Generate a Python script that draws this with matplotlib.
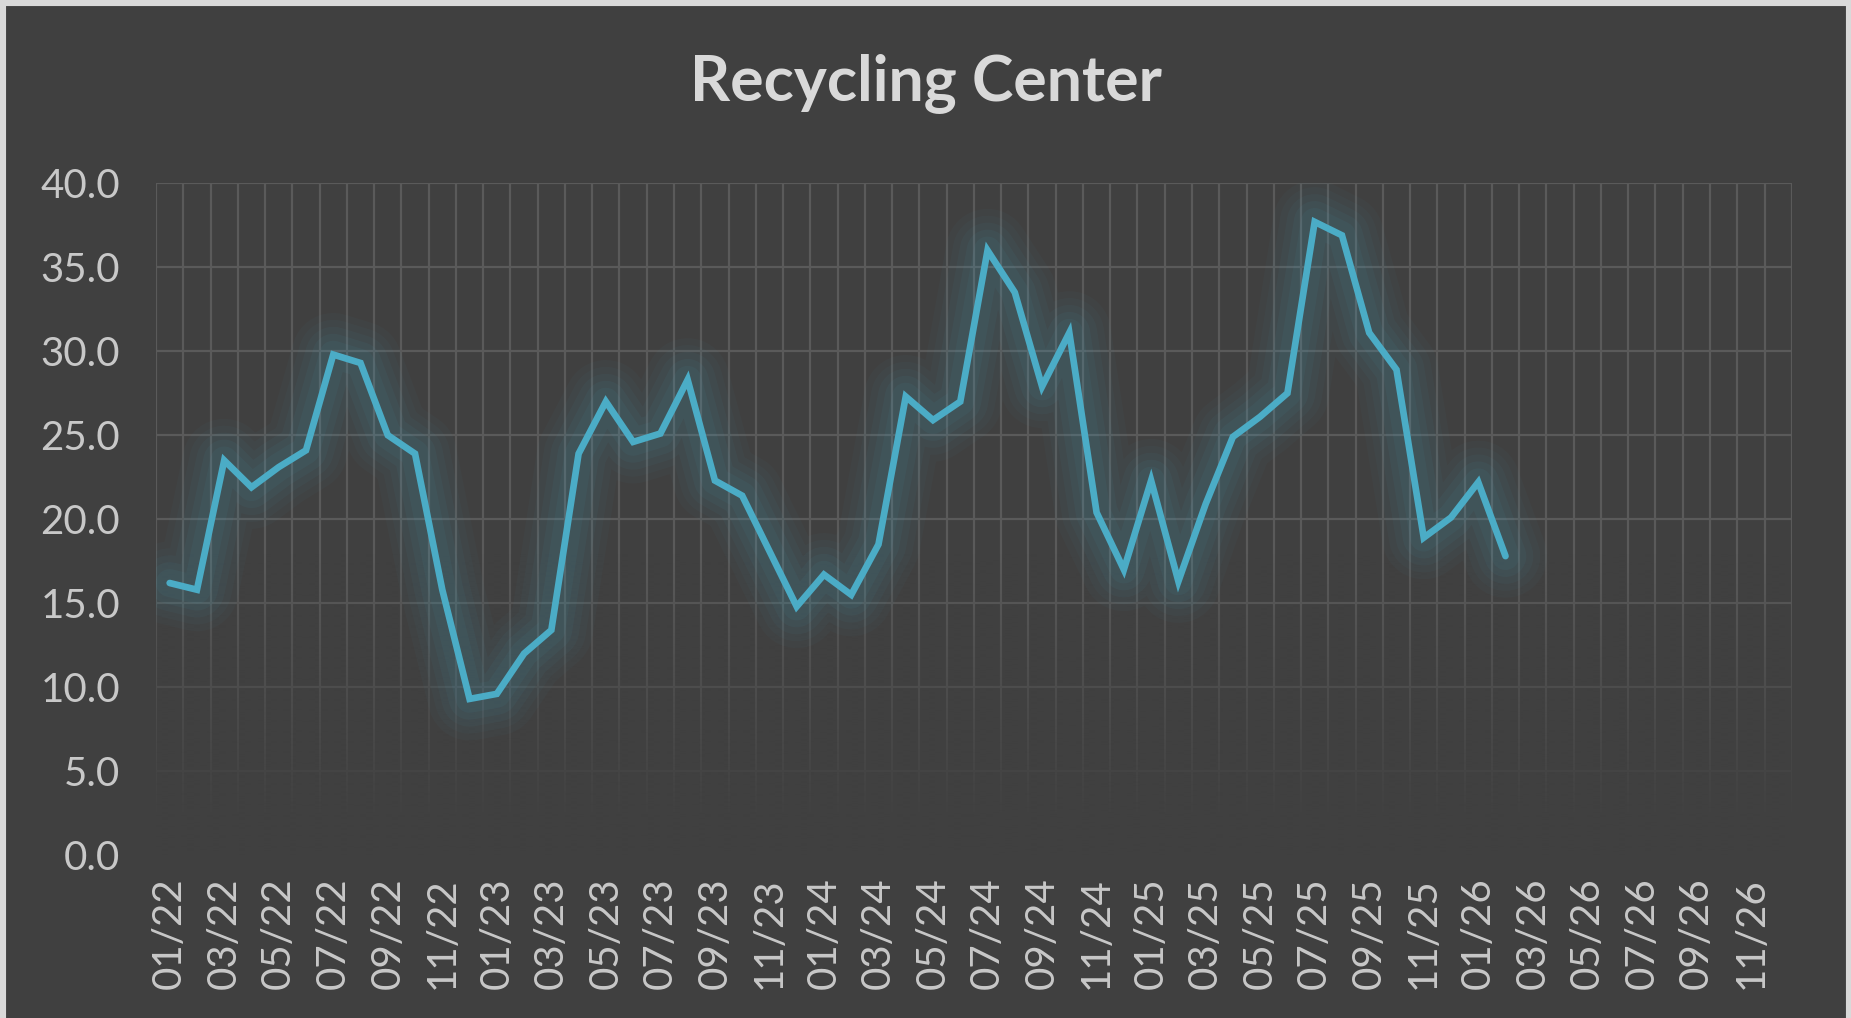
import numpy as np
import matplotlib.pyplot as plt
from matplotlib.patches import Rectangle

# monthly categories 01/22 .. 12/26
months = [f"{m:02d}/{y}" for y in range(22, 27) for m in range(1, 13)]

# values (01/22 .. 02/26)
tonnage = [16.2, 15.8, 23.5, 21.9, 23.1, 24.1, 29.8, 29.3, 25.0, 23.9,
           15.8, 9.3, 9.6, 12.0, 13.4, 23.9, 27.0, 24.6, 25.1, 28.3,
           22.3, 21.4, 18.1, 14.8, 16.7, 15.5, 18.5, 27.3, 25.9, 27.0,
           36.0, 33.5, 27.9, 31.1, 20.4, 17.0, 22.3, 16.3, 20.9, 24.9,
           26.1, 27.5, 37.7, 36.9, 31.1, 28.9, 18.9, 20.1, 22.2, 17.8]

y_ticks = [0, 5, 10, 15, 20, 25, 30, 35, 40]

BG = '#404040'
LINE = '#4bacc6'
GLOW = '#4a9db5'
GRID = '#5a5a5a'
TXT = '#c8c8c8'


def main():
    plt.rcParams['font.family'] = ['Lato', 'DejaVu Sans']
    fig = plt.figure(figsize=(18.51, 10.18), dpi=100, facecolor=BG)
    ax = fig.add_axes([0.0843, 0.160, 0.8837, 0.660])
    ax.set_facecolor(BG)

    n = len(months)
    x = np.arange(len(tonnage)) + 0.5

    # grid: vertical lines between every month, horizontal every 5
    ax.set_xticks(np.arange(0, n + 1), minor=True)
    ax.set_xticks(np.arange(0, n, 2) + 0.5)
    ax.set_xticklabels(months[::2], rotation=90)
    ax.set_yticks(y_ticks)
    ax.set_yticklabels([f"{v:.1f}" for v in y_ticks])
    ax.set_axisbelow(True)
    ax.grid(which='minor', axis='x', color=GRID, lw=1.6)
    ax.grid(which='major', axis='y', color=GRID, lw=1.6)
    ax.grid(which='major', axis='x', visible=False)

    # grid fades out toward the bottom
    yy = np.linspace(40, 0, 400)
    alpha = np.clip((18 - yy) / 16, 0, 1)
    grad = np.zeros((len(yy), 1, 4))
    grad[..., :3] = np.array([0x40, 0x40, 0x40]) / 255
    grad[:, 0, 3] = alpha
    ax.imshow(grad, extent=[0, n, 0, 40], aspect='auto', zorder=1,
              interpolation='bilinear')

    # soft glow around the line
    for w, a in [(60, 0.035), (50, 0.045), (40, 0.055), (30, 0.065), (20, 0.07)]:
        ax.plot(x, tonnage, color=GLOW, lw=w, alpha=a,
                solid_capstyle='round', solid_joinstyle='round', zorder=2)
    ax.plot(x, tonnage, color=LINE, lw=4.8, solid_capstyle='round',
            solid_joinstyle='miter', zorder=3)

    ax.set_xlim(0, n)
    ax.set_ylim(0, 40)
    for s in ax.spines.values():
        s.set_visible(False)
    ax.tick_params(which='both', length=0, labelsize=29, colors=TXT)
    ax.tick_params(axis='x', pad=16)
    ax.tick_params(axis='y', pad=26)

    fig.text(0.5, 0.918, 'Recycling Center', ha='center', va='center',
             fontsize=45, fontweight='bold', color='#d9d9d9')

    # light outer frame
    fig.patches.append(Rectangle((0, -0.01), 1, 1.01, transform=fig.transFigure,
                                 fill=False, edgecolor='#d9d9d9', lw=8))

    fig.savefig('out.png', dpi=100, facecolor=BG)


if __name__ == '__main__':
    main()
